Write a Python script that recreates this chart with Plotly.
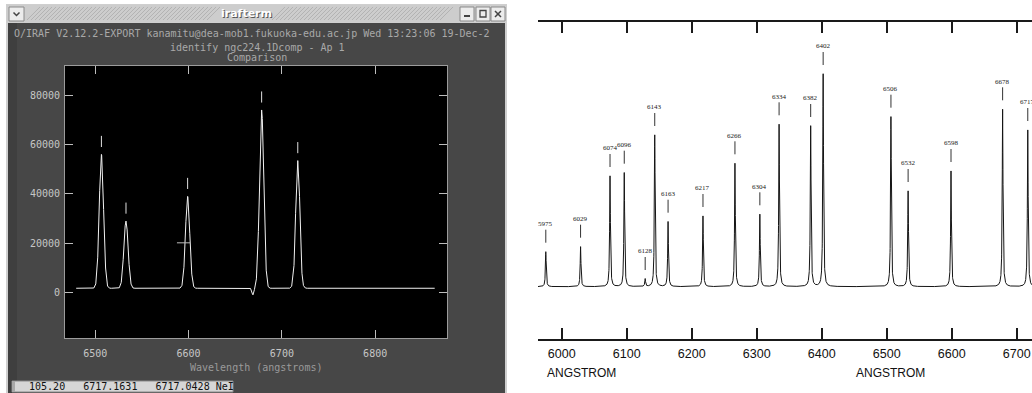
import numpy as np
import plotly.graph_objects as go

W, H = 1032, 393
def px(x): return x / W
def py(y): return 1 - y / H

# ---------------- Left panel data (IRAF identify) ----------------
iraf_lines = [6506.53, 6532.88, 6598.95, 6678.28, 6717.04]
iraf_peaks = [56000, 29000, 39000, 74000, 53500]
iraf_base = 1800
iraf_dip_wl = [6669.0, 6713.0, 6721.5]
iraf_dip_depth = [-2700, -1800, -1800]
iraf_range = [6479.5, 6864.0]
iraf_xticks = [6500, 6600, 6700, 6800]
iraf_yticks = [0, 20000, 40000, 60000, 80000]
cursor_xy = (6594.5, 20200)

# ---------------- Right panel data (comparison atlas) ----------------
atlas_wl = [5975.5, 6029.0, 6074.3, 6096.2, 6128.4, 6143.1, 6163.6, 6217.3, 6266.5,
            6304.8, 6334.4, 6383.0, 6402.2, 6506.5, 6532.9, 6598.9, 6678.3, 6717.0]
atlas_labels = ["5975", "6029", "6074", "6096", "6128", "6143", "6163", "6217", "6266",
                "6304", "6334", "6382", "6402", "6506", "6532", "6598", "6678", "6717"]
atlas_heights = [35, 40, 110.7, 114, 7.7, 151.7, 65, 70.7, 123.4,
                 72.4, 162.4, 160.7, 212.7, 170, 95.7, 115.7, 177.4, 156.7]
atlas_xticks = [6000, 6100, 6200, 6300, 6400, 6500, 6600, 6700]

# ---------------- build spectra ----------------
grid = np.arange(iraf_range[0], iraf_range[1] + 0.01, 2.1)
wl_l = np.unique(np.concatenate([grid, np.array(iraf_lines), np.array(iraf_dip_wl)]))
fl_l = np.full_like(wl_l, float(iraf_base))
for c, p in zip(iraf_lines, iraf_peaks):
    fl_l += (p - iraf_base) * np.exp(-0.5 * ((wl_l - c) / 2.3) ** 2)
for c, d in zip(iraf_dip_wl, iraf_dip_depth):
    fl_l += d * np.exp(-0.5 * ((wl_l - c) / 1.0) ** 2)

wl_r = np.unique(np.concatenate([np.arange(5963.5, 6723.6, 0.1), np.array(atlas_wl)]))
fl_r = np.zeros_like(wl_r)
gam = 0.7
for c, h in zip(atlas_wl, atlas_heights):
    fl_r += h * gam ** 2 / ((wl_r - c) ** 2 + gam ** 2)

fig = go.Figure()

# left spectrum
fig.add_trace(go.Scatter(x=wl_l, y=fl_l, mode="lines", line=dict(color="#f2f2f2", width=1),
                         xaxis="x", yaxis="y", hoverinfo="skip", showlegend=False))
# IRAF line-id ticks
tx, ty = [], []
for c, p in zip(iraf_lines, iraf_peaks):
    tx += [c, c, None]
    ty += [p + 3000, p + 7500, None]
fig.add_trace(go.Scatter(x=tx, y=ty, mode="lines", line=dict(color="#e0e0e0", width=1),
                         xaxis="x", yaxis="y", hoverinfo="skip", showlegend=False))
# cursor
fig.add_trace(go.Scatter(x=[cursor_xy[0] - 7, cursor_xy[0] + 7], y=[cursor_xy[1]] * 2, mode="lines",
                         line=dict(color="#bdbdbd", width=1), xaxis="x", yaxis="y",
                         hoverinfo="skip", showlegend=False))

# right spectrum
fig.add_trace(go.Scatter(x=wl_r, y=fl_r, mode="lines", line=dict(color="#151515", width=1),
                         xaxis="x2", yaxis="y2", hoverinfo="skip", showlegend=False))
mx, my = [], []
for c, h in zip(atlas_wl, atlas_heights):
    mx += [c, c, None]
    my += [h + 9, h + 22, None]
fig.add_trace(go.Scatter(x=mx, y=my, mode="lines", line=dict(color="#333333", width=1),
                         xaxis="x2", yaxis="y2", hoverinfo="skip", showlegend=False))

annotations = []
for c, h, t in zip(atlas_wl, atlas_heights, atlas_labels):
    annotations.append(dict(x=c, y=h + 27.5, xref="x2", yref="y2", text=t, showarrow=False,
                            font=dict(family="Liberation Serif, DejaVu Serif", size=7, color="#222222"),
                            xanchor="center", yanchor="middle"))

mono = "DejaVu Sans Mono, Liberation Mono, monospace"
# terminal texts
annotations.append(dict(x=px(12), y=py(33), xref="paper", yref="paper", showarrow=False,
                        text="O/IRAF V2.12.2-EXPORT kanamitu@dea-mob1.fukuoka-edu.ac.jp Wed 13:23:06 19-Dec-2",
                        font=dict(family=mono, size=10, color="#a9a9a9"), xanchor="left", yanchor="middle"))
annotations.append(dict(x=px(257), y=py(47), xref="paper", yref="paper", showarrow=False,
                        text="identify ngc224.1Dcomp - Ap 1",
                        font=dict(family=mono, size=10, color="#a9a9a9"), xanchor="center", yanchor="middle"))
annotations.append(dict(x=px(257), y=py(58), xref="paper", yref="paper", showarrow=False,
                        text="Comparison",
                        font=dict(family=mono, size=10, color="#a9a9a9"), xanchor="center", yanchor="middle"))
annotations.append(dict(x=px(256), y=py(367.5), xref="paper", yref="paper", showarrow=False,
                        text="Wavelength (angstroms)",
                        font=dict(family=mono, size=10, color="#9a9a9a"), xanchor="center", yanchor="middle"))
annotations.append(dict(x=px(15), y=py(386.5), xref="paper", yref="paper", showarrow=False,
                        text="  105.20   6717.1631   6717.0428 NeI",
                        font=dict(family=mono, size=10, color="#111111"), xanchor="left", yanchor="middle"))
# window title
annotations.append(dict(x=px(247), y=py(14.5), xref="paper", yref="paper", showarrow=False, text="<b>irafterm</b>",
                        font=dict(family="DejaVu Sans", size=11, color="#555555"), xanchor="center", yanchor="middle"))
annotations.append(dict(x=px(246), y=py(13.5), xref="paper", yref="paper", showarrow=False, text="<b>irafterm</b>",
                        font=dict(family="DejaVu Sans", size=11, color="#ffffff"), xanchor="center", yanchor="middle"))
# angstrom labels
sans = "Liberation Sans, Arial"
annotations.append(dict(x=px(545), y=py(373), xref="paper", yref="paper", showarrow=False, text="ANGSTROM",
                        font=dict(family=sans, size=12, color="#111111"), xanchor="left", yanchor="middle"))
annotations.append(dict(x=px(890), y=py(373), xref="paper", yref="paper", showarrow=False, text="ANGSTROM",
                        font=dict(family=sans, size=12, color="#111111"), xanchor="center", yanchor="middle"))

shapes = []
def rect(x0, y0, x1, y1, fill, line=None, lw=0, layer="below"):
    shapes.append(dict(type="rect", xref="paper", yref="paper", x0=px(x0), x1=px(x1), y0=py(y1), y1=py(y0),
                       fillcolor=fill, line=dict(color=line or fill, width=lw), layer=layer))
def path(d, color, lw=1, layer="above"):
    shapes.append(dict(type="path", xref="paper", yref="paper", path=d, line=dict(color=color, width=lw), layer=layer))

# window frame
rect(6, 4, 507, 393, "#cfcfcf")
rect(8, 23, 505, 393, "#474747")
rect(8, 23, 17, 393, "#3f3f3f")
# title bar
rect(7, 5, 506, 22, "#cdcdcd")
d = ""
for rng in [(27, 208), (272, 443)]:
    x = rng[0]
    while x <= rng[1]:
        d += f"M{px(x):.5f},{py(20):.5f}L{px(x+13):.5f},{py(7):.5f}"
        x += 4
path(d, "#b3b3b3", 1, "below")
# buttons
for bx in [(9, 24), (460, 474), (476, 490), (491, 505)]:
    rect(bx[0], 7, bx[1], 21, "#ececec", "#8a8a8a", 1)
path(f"M{px(13.5):.5f},{py(12.5):.5f}L{px(16.5):.5f},{py(15.5):.5f}L{px(19.5):.5f},{py(12.5):.5f}", "#444", 1.5)
path(f"M{px(464):.5f},{py(16):.5f}L{px(470):.5f},{py(16):.5f}", "#444", 2)
path(f"M{px(480):.5f},{py(10.5):.5f}L{px(486):.5f},{py(10.5):.5f}L{px(486):.5f},{py(17):.5f}L{px(480):.5f},{py(17):.5f}Z", "#444", 1.3)
path(f"M{px(495):.5f},{py(11):.5f}L{px(501):.5f},{py(17):.5f}M{px(501):.5f},{py(11):.5f}L{px(495):.5f},{py(17):.5f}", "#444", 1.5)
# black plot area
rect(65, 66, 447, 338, "#000000")
# status bar
rect(12, 381, 233, 392, "#d6d6d6", "#8a8a8a", 1)
rect(12, 381, 15, 392, "#a8a8a8")

tickfont_l = dict(family=mono, size=10, color="#c6c6c6")
fig.update_layout(
    width=W, height=H, autosize=False, margin=dict(l=0, r=0, t=0, b=0),
    paper_bgcolor="#ffffff", plot_bgcolor="rgba(0,0,0,0)",
    shapes=shapes, annotations=annotations, showlegend=False,
    xaxis=dict(domain=[px(65), px(447)], range=[6467.5, 6877], tickvals=iraf_xticks,
               ticktext=[str(v) for v in iraf_xticks], ticks="inside", ticklen=8, tickcolor="#bdbdbd",
               showline=True, linecolor="#9c9c9c", linewidth=1, mirror="ticks", showgrid=False,
               zeroline=False, tickfont=tickfont_l, anchor="y", ticklabelstandoff=6),
    yaxis=dict(domain=[py(338), py(66)], range=[-18340, 91800], tickvals=iraf_yticks,
               ticktext=[str(v) for v in iraf_yticks], ticks="inside", ticklen=8, tickcolor="#bdbdbd",
               showline=True, linecolor="#9c9c9c", linewidth=1, mirror="ticks", showgrid=False,
               zeroline=False, tickfont=tickfont_l, anchor="x", ticklabelstandoff=2),
    xaxis2=dict(domain=[px(538), 1.0], range=[5963.5, 6723.5], tickvals=atlas_xticks,
                ticktext=[str(v) for v in atlas_xticks], ticks="inside", ticklen=11, tickwidth=1.5,
                tickcolor="#1a1a1a", showline=True, linecolor="#1a1a1a", linewidth=2, mirror="ticks",
                showgrid=False, zeroline=False, anchor="y2",
                tickfont=dict(family=sans, size=12.5, color="#111111"), ticklabelstandoff=2),
    yaxis2=dict(domain=[py(339.3), py(22)], range=[-52.6, 264.7], visible=False, anchor="x2"),
)

fig.write_html("out.html", config={"displayModeBar": False},
               post_script="document.body.style.margin='0';document.body.style.overflow='hidden';")
